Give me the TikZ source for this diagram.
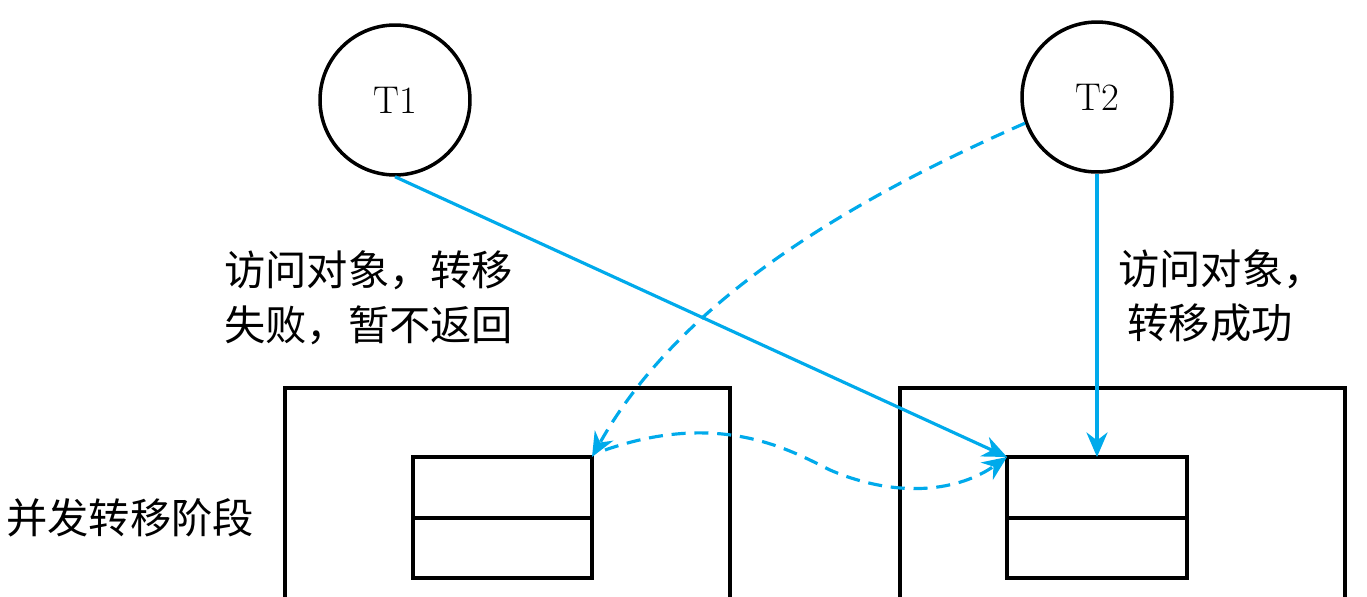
\documentclass[tikz,border=0pt]{standalone}
\usepackage{fontspec}
\newfontfamily\cjk{Noto Sans CJK SC}
\usetikzlibrary{arrows.meta}
\definecolor{cb}{RGB}{0,170,235}
\begin{document}
\begin{tikzpicture}[x=0.02cm,y=-0.02cm,
  circ/.style={draw,line width=2pt,circle,minimum size=3cm,font=\fontsize{22}{24}\selectfont},
  box/.style={draw,line width=2pt},
  lab/.style={font=\cjk\fontsize{23.5}{31}\selectfont,align=left},
  arr/.style={cb,line width=1.8pt,-{Stealth[length=14pt,width=12pt]}},
  darr/.style={arr,dash pattern=on 8pt off 5pt}]
\useasboundingbox (0,0) rectangle (1367,596);
\node[circ] (t1) at (395,100) {T1};
\node[circ] (t2) at (1097,97) {T2};
\draw[box] (285,610) -- (285,388) -- (730,388) -- (730,610);
\draw[box] (900,610) -- (900,388) -- (1345,388) -- (1345,610);
\draw[box] (413,457) rectangle (592,578); \draw[box] (413,518) -- (592,518);
\draw[box] (1007,457) rectangle (1187,578); \draw[box] (1007,518) -- (1187,518);
\coordinate (a) at (592,457);
\coordinate (b) at (1007,457);
\coordinate (c) at (1097,457);
\node[lab,anchor=west] (l1) at (218,298) {访问对象，转移\\失败，暂不返回};
\node[lab,anchor=west] (l2) at (1112,296) {访问对象，\\\ 转移成功};
\node[lab,anchor=west] (l3) at (0,518) {并发转移阶段};
\draw[arr] (t1.south) -- (b);
\draw[arr] (t2.south) -- (c);
\draw[darr] (t2.200) .. controls (850,200) and (680,300) .. (a);
\draw[darr] (605,450) .. controls (720,410) and (790,450) .. (830,470) .. controls (900,500) and (960,490) .. (b);
\end{tikzpicture}
\end{document}
